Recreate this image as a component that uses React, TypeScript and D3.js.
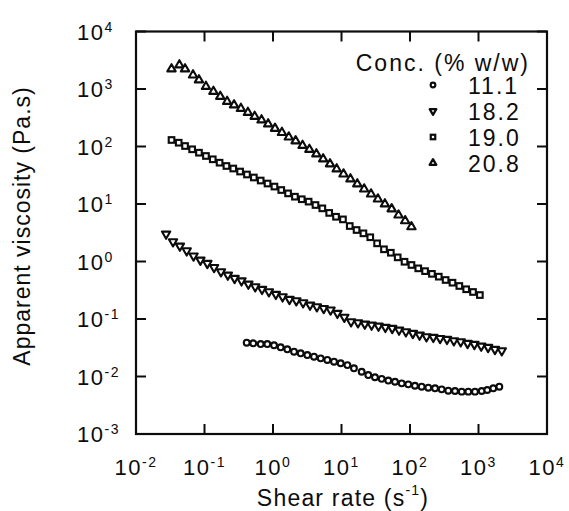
import React from "react";
import * as d3 from "d3";

// ---- tick labels ----
const xTickValues = [1e-2, 1e-1, 1, 10, 100, 1000, 1e4];
const xTickExp = ["-2", "-1", "0", "1", "2", "3", "4"];
const yTickValues = [1e-3, 1e-2, 1e-1, 1, 10, 100, 1000, 1e4];
const yTickExp = ["-3", "-2", "-1", "0", "1", "2", "3", "4"];

const xTitle = "Shear rate (s";
const xTitleSup = "-1";
const yTitle = "Apparent viscosity (Pa.s)";
const legendTitle = "Conc. (% w/w)";
const seriesNames = ["11.1", "18.2", "19.0", "20.8"];
const seriesMarkers = ["circle", "triangleDown", "square", "triangleUp"];

// ---- series: 11.1 % w/w (circles) ----
const rate111 = [0.413, 0.515, 0.661, 0.826, 1.035, 1.294, 1.618, 2.028, 2.535, 3.17, 3.97, 4.97, 6.21, 7.78, 9.73, 12.2, 15.2, 19.7, 24.6, 30.8, 38.6, 48.2, 60.4, 75.7, 94.4, 118, 148, 185, 232, 290, 362, 454, 569, 710, 889, 1114, 1343, 1644, 2014];
const visc111 = [0.0387, 0.0378, 0.0367, 0.0367, 0.0349, 0.0322, 0.0297, 0.027, 0.0253, 0.0236, 0.0221, 0.0207, 0.0194, 0.0181, 0.017, 0.0158, 0.0139, 0.0121, 0.0106, 0.0097, 0.0091, 0.0085, 0.0081, 0.0076, 0.0073, 0.0069, 0.00665, 0.00638, 0.00624, 0.00598, 0.00566, 0.0056, 0.00545, 0.00545, 0.00545, 0.0056, 0.00582, 0.00624, 0.00665];

// ---- series: 18.2 % w/w (inverted triangles) ----
const rate182 = [0.0275, 0.0347, 0.0437, 0.055, 0.0692, 0.0871, 0.11, 0.138, 0.174, 0.219, 0.275, 0.347, 0.437, 0.55, 0.692, 0.871, 1.1, 1.38, 1.74, 2.19, 2.75, 3.47, 4.37, 5.5, 6.92, 8.71, 11, 13.8, 17.4, 21.9, 27.5, 34.7, 43.7, 55, 69.2, 87.1, 110, 138, 174, 219, 275, 347, 437, 550, 692, 871, 1096, 1380, 1738, 2188];
const visc182 = [3.01, 2.21, 1.86, 1.54, 1.25, 1.06, 0.93, 0.79, 0.665, 0.582, 0.51, 0.463, 0.406, 0.365, 0.329, 0.299, 0.269, 0.244, 0.22, 0.208, 0.192, 0.175, 0.164, 0.153, 0.144, 0.126, 0.108, 0.0897, 0.0863, 0.0818, 0.0787, 0.0755, 0.0718, 0.0689, 0.0644, 0.0601, 0.0564, 0.0527, 0.0492, 0.0481, 0.0461, 0.0444, 0.042, 0.0403, 0.0378, 0.0363, 0.0339, 0.0322, 0.0297, 0.0281];

// ---- series: 19.0 % w/w (squares) ----
const rate190 = [0.033, 0.042, 0.052, 0.066, 0.083, 0.105, 0.132, 0.166, 0.209, 0.263, 0.331, 0.417, 0.525, 0.661, 0.832, 1.05, 1.32, 1.66, 2.09, 2.63, 3.31, 4.17, 5.25, 6.61, 8.32, 10.5, 13.2, 16.6, 20.9, 26.3, 33.1, 41.7, 52.5, 66.1, 83.2, 105, 132, 166, 209, 263, 331, 417, 525, 661, 832, 1047];
const visc190 = [129.8, 116.4, 102, 89.4, 78, 68.4, 59.9, 52.3, 45.8, 41.4, 36.7, 32.6, 28.9, 25.6, 22.7, 20.1, 17.5, 15.3, 13.4, 12.1, 11.0, 9.6, 8.4, 7.0, 6.0, 5.4, 4.14, 3.53, 3.09, 2.64, 2.07, 1.63, 1.42, 1.18, 0.99, 0.87, 0.76, 0.68, 0.61, 0.545, 0.477, 0.428, 0.375, 0.329, 0.295, 0.261];

// ---- series: 20.8 % w/w (triangles) ----
const rate208 = [0.033, 0.043, 0.052, 0.068, 0.083, 0.105, 0.135, 0.17, 0.214, 0.27, 0.34, 0.43, 0.54, 0.68, 0.85, 1.07, 1.35, 1.7, 2.14, 2.7, 3.4, 4.3, 5.4, 6.8, 8.5, 10.7, 13.5, 17, 21.4, 27, 34, 43, 54, 68, 85, 105];
const visc208 = [2228, 2614, 2228, 1750, 1435, 1105, 905, 741, 606, 527, 458, 390, 333, 289, 246, 206, 175, 146, 125, 104, 88.7, 74.1, 60.7, 49.7, 40.6, 33.2, 27.2, 22.3, 18.2, 14.9, 12.2, 10, 8.2, 6.4, 5.1, 4.0];

const seriesRates = [rate111, rate182, rate190, rate208];
const seriesVisc = [visc111, visc182, visc190, visc208];

const W = 569;
const H = 511;
const M = { left: 136, right: 22, top: 31.5, bottom: 77 };
const FONT = "'Liberation Sans', Arial, Helvetica, sans-serif";
const INK = "#0c0c0c";

function Marker({ type, x, y, s = 1, sw = 2.1 }: { type: string; x: number; y: number; s?: number; sw?: number }) {
  if (type === "circle") {
    return <circle cx={x} cy={y} r={2.9 * s} fill="white" stroke={INK} strokeWidth={sw} />;
  }
  if (type === "square") {
    const h = 2.8 * s;
    return <rect x={x - h} y={y - h} width={2 * h} height={2 * h} fill="white" stroke={INK} strokeWidth={sw} />;
  }
  const path = d3.symbol().type(d3.symbolTriangle).size(30 * s * s)()!;
  const rot = type === "triangleDown" ? 180 : 0;
  return (
    <path d={path} transform={`translate(${x},${y}) rotate(${rot})`} fill="white" stroke={INK} strokeWidth={sw} strokeLinejoin="round" />
  );
}

export default function App() {
  const x = d3.scaleLog().domain([1e-2, 1e4]).range([M.left, W - M.right]);
  const y = d3.scaleLog().domain([1e-3, 1e4]).range([H - M.bottom, M.top]);
  const x0 = M.left, x1 = W - M.right, y0 = H - M.bottom, y1 = M.top;
  const tl = 10;

  return (
    <svg width={W} height={H} style={{ position: "absolute", left: 0, top: 0, background: "white" }} fontFamily={FONT}>
      <rect x={0} y={0} width={W} height={H} fill="white" />
      {/* frame */}
      <rect x={x0} y={y1} width={x1 - x0} height={y0 - y1} fill="none" stroke={INK} strokeWidth={2.2} />
      {/* x ticks */}
      {xTickValues.map((v, i) => (
        <g key={"xt" + i}>
          <line x1={x(v)} x2={x(v)} y1={y0} y2={y0 - tl} stroke={INK} strokeWidth={2} />
          <line x1={x(v)} x2={x(v)} y1={y1} y2={y1 + tl} stroke={INK} strokeWidth={2} />
          <text x={x(v)} y={475} textAnchor="middle" fontSize={22} fill={INK} letterSpacing={1.5}>
            10<tspan dy={-8} fontSize={14}>{xTickExp[i]}</tspan>
          </text>
        </g>
      ))}
      {/* y ticks */}
      {yTickValues.map((v, i) => (
        <g key={"yt" + i}>
          <line x1={x0} x2={x0 + tl} y1={y(v)} y2={y(v)} stroke={INK} strokeWidth={2} />
          <line x1={x1} x2={x1 - tl} y1={y(v)} y2={y(v)} stroke={INK} strokeWidth={2} />
          <text x={77} y={y(v) + 8} textAnchor="start" fontSize={22} fill={INK} letterSpacing={1.5}>
            10<tspan dy={-8} fontSize={14}>{yTickExp[i]}</tspan>
          </text>
        </g>
      ))}
      {/* axis titles */}
      <text x={343} y={506} textAnchor="middle" fontSize={23} fill={INK} letterSpacing={1.2}>
        {xTitle}
        <tspan dy={-11} fontSize={14}>{xTitleSup}</tspan>
        <tspan dy={11}>)</tspan>
      </text>
      <text transform={`translate(30,226) rotate(-90)`} textAnchor="middle" fontSize={23} fill={INK} letterSpacing={1}>
        {yTitle}
      </text>
      {/* data */}
      {seriesRates.map((rates, si) => (
        <g key={"s" + si}>
          {rates.map((r, j) => (
            <Marker key={j} type={seriesMarkers[si]} x={x(r)} y={y(seriesVisc[si][j])} />
          ))}
        </g>
      ))}
      {/* legend */}
      <text x={530} y={71} textAnchor="end" fontSize={23} fill={INK} letterSpacing={2}>
        {legendTitle}
      </text>
      {seriesNames.map((n, i) => (
        <g key={"lg" + i}>
          <Marker type={seriesMarkers[i]} x={433} y={94 + i * 26 - 9} s={0.8} sw={2.2} />
          <text x={468} y={94 + i * 26} fontSize={23} fill={INK} letterSpacing={2}>
            {n}
          </text>
        </g>
      ))}
    </svg>
  );
}
